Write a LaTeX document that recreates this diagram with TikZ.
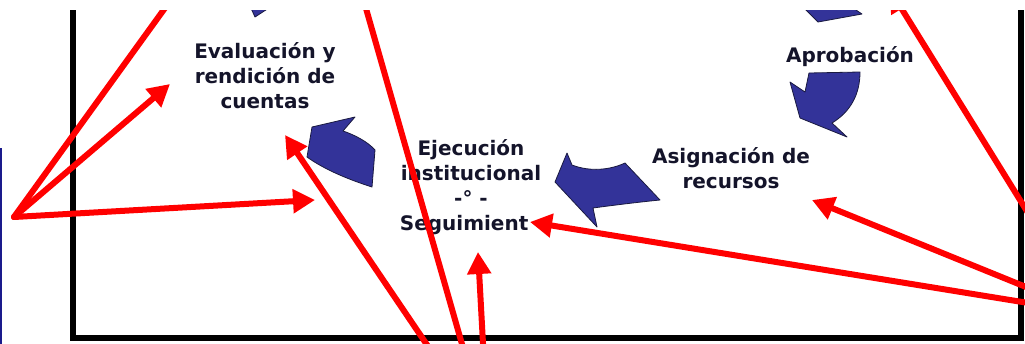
\documentclass[tikz,border=0pt]{standalone}
\usepackage{fontspec}
\setmainfont{DejaVu Sans}
\usetikzlibrary{arrows.meta}
\definecolor{ink}{HTML}{14142A}
\definecolor{cycleblue}{HTML}{333399}
\definecolor{rim}{HTML}{1A1A40}
\definecolor{pointer}{HTML}{FF0000}
\definecolor{sidebar}{HTML}{1A1A8C}

\begin{document}
\begin{tikzpicture}[x=1pt, y=-1pt,
      stage/.style={text=ink, align=center, inner sep=0pt,
                    font=\bfseries\fontsize{20}{25}\selectfont},
      turn/.style={fill=cycleblue, draw=rim, line width=0.8pt, line join=round},
      frame/.style={draw=black, line width=6pt},
      pointer/.style={draw=pointer, line width=6pt, line cap=round,
                      -{Triangle[length=22pt, width=23pt]}},
      plain/.style={draw=pointer, line width=6pt, line cap=round}]
    \useasboundingbox (0,0) rectangle (1025,343);
    \clip (0,10) rectangle (1025,343);
    \draw[frame] (73,-10) -- (73,338) -- (1021,338) -- (1021,-10);
    \draw[sidebar, line width=2pt] (1,148) -- (1,350);

    \filldraw[turn] (809,73) -- (860,72) .. controls (860,95) and (850,112) .. (832,123)
      -- (847,137) -- (800,118) -- (790,82) -- (805,92) -- cycle;
    \filldraw[turn] (555,182) -- (567,153) -- (572,165) .. controls (590,172) and (610,170) .. (625,163)
      -- (660,200) .. controls (640,202) and (615,205) .. (593,208) -- (597,227) -- cycle;
    \filldraw[turn] (312,127) -- (355,117) -- (343,131) .. controls (355,135) and (368,142) .. (375,150)
      -- (372,187) .. controls (350,180) and (325,170) .. (307,157) -- cycle;
    \filldraw[turn] (250,6) -- (272,6) -- (255,17) -- cycle;
    \filldraw[turn] (802,6) -- (850,6) -- (862,14) -- (818,22) -- cycle;

    \node[stage] (eval)  at (265,76)  {Evaluación y\\rendición de\\cuentas};
    \node[stage] (ejec)  at (471,187) {Ejecución\\institucional\\-° -\\Seguimient\phantom{o}};
    \node[stage] (asig)  at (731,168) {Asignación de\\recursos};
    \node[stage] (aprob) at (850,57)  {Aprobación};

    \coordinate (lfan)  at (14,217);
    \coordinate (lup)   at (178,-10);
    \coordinate (leval) at (170,84);
    \coordinate (lmid)  at (315,200);
    \coordinate (bfan)  at (488,435);
    \coordinate (beval) at (285,135);
    \coordinate (btop)  at (355,-30);
    \coordinate (bseg)  at (478,252);
    \coordinate (rfan)  at (1090,313);
    \coordinate (rseg)  at (530,222);
    \coordinate (rasig) at (812,200);
    \coordinate (rtop)  at (890,-10);

    \draw[plain]   (lfan) -- (lup);
    \draw[pointer] (lfan) -- (leval);
    \draw[pointer] (lfan) -- (lmid);
    \draw[pointer] (bfan) -- (beval);
    \draw[pointer] (bfan) -- (btop);
    \draw[pointer] (bfan) -- (bseg);
    \draw[pointer] (rfan) -- (rseg);
    \draw[pointer] (rfan) -- (rasig);
    \draw[pointer] (rfan) -- (rtop);
  \end{tikzpicture}
\end{document}
